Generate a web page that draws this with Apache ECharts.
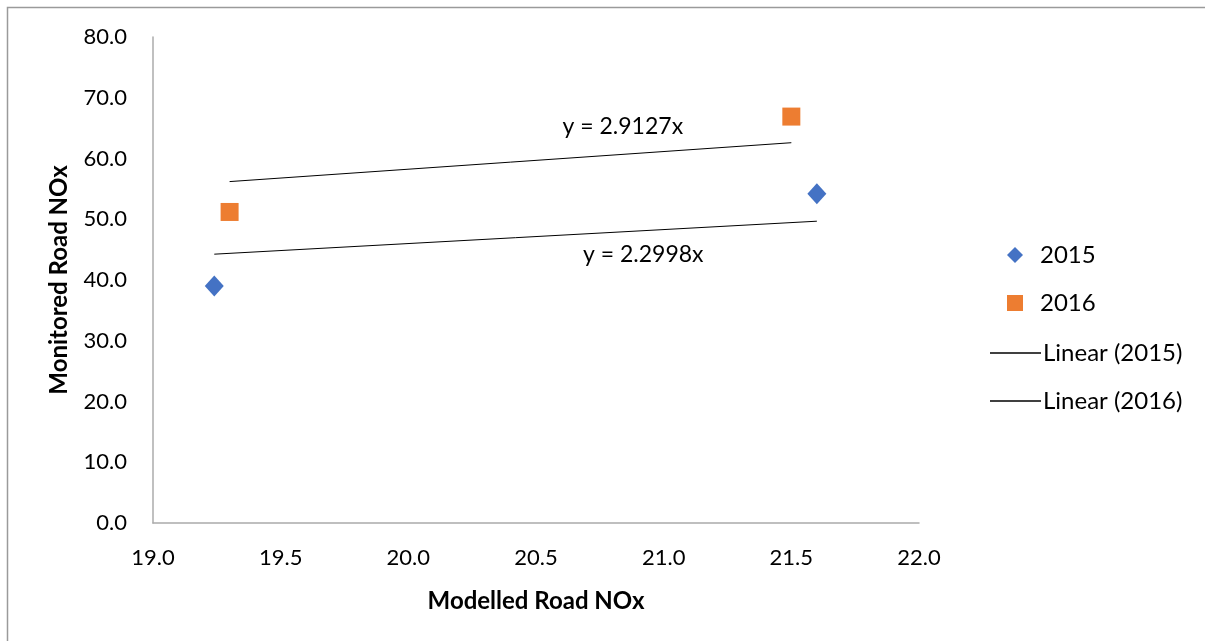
<!DOCTYPE html>
<html>
<head>
<meta charset="utf-8">
<script src="https://cdn.jsdelivr.net/npm/echarts@6/dist/echarts.min.js"></script>
<style>
html,body{margin:0;padding:0;background:#fff;}
#chart{width:1205px;height:641px;}
</style>
</head>
<body>
<div id="chart"></div>
<script>
// Data
var data2015 = [[19.24, 39.0], [21.6, 54.2]];
var data2016 = [[19.3, 51.2], [21.5, 66.9]];
// Linear trendlines (through origin), endpoints
var trend2015 = [[19.24, 44.25], [21.6, 49.68]];
var trend2016 = [[19.3, 56.2], [21.5, 62.6]];
var eq2015 = 'y = 2.2998x';
var eq2016 = 'y = 2.9127x';
var eq2015Pos = [20.92, 44.2];
var eq2016Pos = [20.84, 65.2];
var seriesNames = ['2015', '2016', 'Linear (2015)', 'Linear (2016)'];

var FONT = 'Lato, "Open Sans", sans-serif';
var chart = echarts.init(document.getElementById('chart'), null, {renderer: 'canvas'});
var option = {
  backgroundColor: '#ffffff',
  animation: false,
  textStyle: {fontFamily: FONT},
  graphic: [{
    type: 'rect',
    shape: {x: 7.5, y: 7.5, width: 1300, height: 700},
    style: {fill: 'none', stroke: '#9a9a9a', lineWidth: 1.5},
    silent: true
  }],
  grid: {left: 153, right: 286, top: 37, bottom: 118, containLabel: false},
  xAxis: {
    type: 'value', min: 19, max: 22, interval: 0.5,
    name: 'Modelled Road NOx', nameLocation: 'middle', nameGap: 66,
    nameTextStyle: {fontFamily: FONT, fontSize: 24, fontWeight: 'bold', color: '#000'},
    axisLine: {show: true, lineStyle: {color: '#ababab', width: 1.5}},
    axisTick: {show: false},
    splitLine: {show: false},
    axisLabel: {fontFamily: FONT, fontSize: 22, color: '#000', margin: 24,
      formatter: function (v) { return v.toFixed(1); }}
  },
  yAxis: {
    type: 'value', min: 0, max: 80, interval: 10,
    name: 'Monitored Road NOx', nameLocation: 'middle', nameGap: 82,
    nameTextStyle: {fontFamily: FONT, fontSize: 24, fontWeight: 'bold', color: '#000'},
    axisLine: {show: true, lineStyle: {color: '#ababab', width: 1.5}},
    axisTick: {show: false},
    splitLine: {show: false},
    axisLabel: {fontFamily: FONT, fontSize: 22, color: '#000', margin: 26,
      formatter: function (v) { return v.toFixed(1); }}
  },
  legend: [{
    orient: 'vertical', left: 1002, top: 238,
    itemWidth: 16, itemHeight: 16, itemGap: 24,
    textStyle: {fontFamily: FONT, fontSize: 24, lineHeight: 24, color: '#000', padding: [0, 0, 0, 12]},
    data: [
      {name: seriesNames[0], icon: 'path://M5,0L10,5L5,10L0,5Z'},
      {name: seriesNames[1], icon: 'path://M0,0H10V10H0Z'}
    ],
    selectedMode: false
  }, {
    orient: 'vertical', left: 985, top: 336,
    itemWidth: 51, itemHeight: 1.5, itemGap: 24,
    textStyle: {fontFamily: FONT, fontSize: 24, lineHeight: 24, color: '#000', padding: [0, 0, 0, -3]},
    data: [
      {name: seriesNames[2], icon: 'rect'},
      {name: seriesNames[3], icon: 'rect'}
    ],
    selectedMode: false
  }],
  series: [{
    name: seriesNames[0], type: 'scatter', data: data2015,
    symbol: 'diamond', symbolSize: [19, 21],
    itemStyle: {color: '#4472C4', opacity: 1}, z: 5
  }, {
    name: seriesNames[1], type: 'scatter', data: data2016,
    symbol: 'rect', symbolSize: 18,
    itemStyle: {color: '#ED7D31', opacity: 1}, z: 5
  }, {
    name: seriesNames[2], type: 'line', data: trend2015,
    symbol: 'none', lineStyle: {color: '#000', width: 1},
    itemStyle: {color: '#000'},
    markPoint: {
      symbol: 'circle', symbolSize: 0,
      label: {show: true, formatter: eq2015, fontFamily: FONT, fontSize: 23, color: '#000'},
      data: [{coord: eq2015Pos}]
    }
  }, {
    name: seriesNames[3], type: 'line', data: trend2016,
    symbol: 'none', lineStyle: {color: '#000', width: 1},
    itemStyle: {color: '#000'},
    markPoint: {
      symbol: 'circle', symbolSize: 0,
      label: {show: true, formatter: eq2016, fontFamily: FONT, fontSize: 23, color: '#000'},
      data: [{coord: eq2016Pos}]
    }
  }]
};
chart.setOption(option);
</script>
</body>
</html>
